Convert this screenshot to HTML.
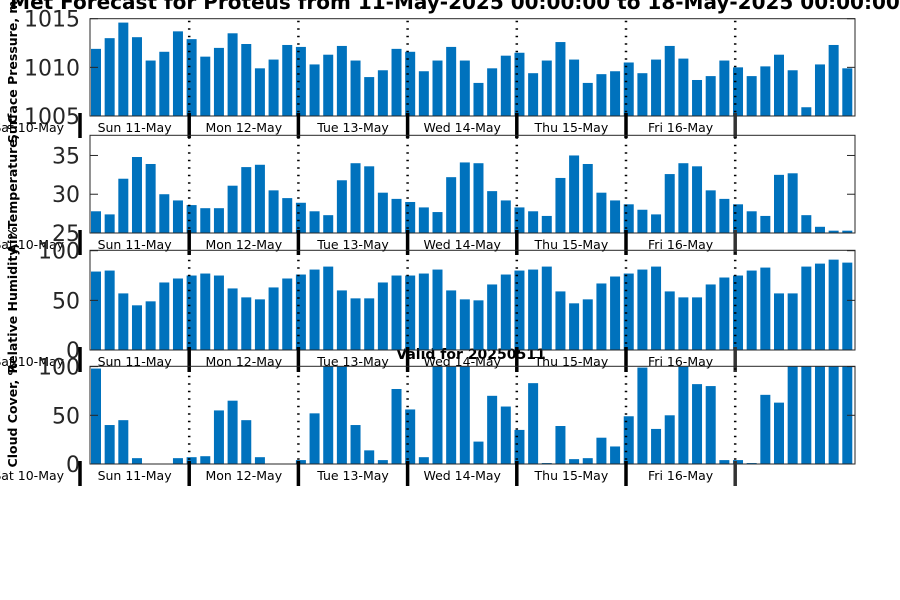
<!DOCTYPE html>
<html><head><meta charset="utf-8"><style>
body{margin:0;background:#fff;}
svg{display:block;font-family:"DejaVu Sans","Liberation Sans",sans-serif;}
</style></head><body>
<svg id="c" width="900" height="600" xmlns="http://www.w3.org/2000/svg">
<text x="455" y="9" text-anchor="middle" font-size="20" font-weight="bold" fill="#000">Met Forecast for Proteus from 11-May-2025 00:00:00 to 18-May-2025 00:00:00</text>
<text x="471" y="359" text-anchor="middle" font-size="14" font-weight="bold" fill="#000">Valid for 20250511</text>
</svg>
<script>
const dayLabels=["Sat 10-May","Sun 11-May","Mon 12-May","Tue 13-May","Wed 14-May","Thu 15-May","Fri 16-May"];
const pressure=[1011.9,1013.0,1014.6,1013.1,1010.7,1011.6,1013.7,1012.9,1011.1,1012.0,1013.5,1012.4,1009.9,1010.8,1012.3,1012.1,1010.3,1011.3,1012.2,1010.7,1009.0,1009.7,1011.9,1011.6,1009.6,1010.7,1012.1,1010.7,1008.4,1009.9,1011.2,1011.5,1009.4,1010.7,1012.6,1010.8,1008.4,1009.3,1009.6,1010.5,1009.4,1010.8,1012.2,1010.9,1008.7,1009.1,1010.7,1010.0,1009.1,1010.1,1011.3,1009.7,1005.9,1010.3,1012.3,1009.9];
const temperature=[27.8,27.4,32.0,34.8,33.9,30.0,29.2,28.6,28.2,28.2,31.1,33.5,33.8,30.5,29.5,28.9,27.8,27.3,31.8,34.0,33.6,30.2,29.4,29.0,28.3,27.7,32.2,34.1,34.0,30.4,29.2,28.3,27.8,27.2,32.1,35.0,33.9,30.2,29.2,28.7,28.0,27.4,32.6,34.0,33.6,30.5,29.4,28.7,27.8,27.2,32.5,32.7,27.3,25.8,25.3,25.3];
const humidity=[79,80,57,45,49,68,72,75,77,75,62,53,51,63,72,76,81,84,60,52,52,68,75,75,77,81,60,51,50,66,76,80,81,84,59,47,51,67,74,77,81,84,59,53,53,66,73,75,80,83,57,57,84,87,91,88];
const cloud=[98,40,45,6,0,0,6,7,8,55,65,45,7,0,0,4,52,100,100,40,14,4,77,56,7,100,100,100,23,70,59,35,83,1,39,5,6,27,18,49,99,36,50,100,82,80,4,4,1,71,63,100,100,100,100,100];
const pressureTicks=[1005,1010,1015];
const tempTicks=[25,30,35];
const pctTicks=[0,50,100];
const NS="http://www.w3.org/2000/svg";
const svg=document.getElementById('c');
const X0=90,X1=855,firstC=96,step=13.66,bw=10,bound0=80,dayW=109.2;
function xOf(i){return firstC+i*step;}
function mk(tag,attrs,parent){const e=document.createElementNS(NS,tag);for(const k in attrs)e.setAttribute(k,attrs[k]);(parent||svg).appendChild(e);return e;}
const panels=[
 {name:"pressure",data:pressure,ticks:pressureTicks,min:1005,max:1015,top:18.7,bot:116,label:"Surface Pressure, mb"},
 {name:"temperature",data:temperature,ticks:tempTicks,min:25,max:37.6,top:135.3,bot:233,label:"Air Temperature, °C"},
 {name:"humidity",data:humidity,ticks:pctTicks,min:0,max:100.4,top:250.3,bot:350,label:"Relative Humidity, %"},
 {name:"cloud",data:cloud,ticks:pctTicks,min:0,max:100.3,top:366.3,bot:464,label:"Cloud Cover, %"}
];
panels.forEach(p=>{
 const g=mk('g',{});
 
 
 const y=v=>p.bot-(v-p.min)/(p.max-p.min)*(p.bot-p.top);
 p.data.forEach((v,i)=>{
  const yy=Math.max(y(v),p.top);
  const r=mk('rect',{x:xOf(i)-bw/2,y:yy,width:bw,height:p.bot-yy,fill:"#0072bd"},g);
  
  
 });
 for(let d=1;d<=6;d++){
  const bx=bound0+d*dayW;
  const l=mk('line',{x1:bx,x2:bx,y1:p.top+2,y2:p.bot,stroke:"#000","stroke-width":2.5,"stroke-dasharray":"1.5,6"},g);
  
  
 }
 const fr=mk('rect',{x:X0,y:p.top,width:X1-X0,height:p.bot-p.top,fill:"none",stroke:"#262626","stroke-width":1},g);
 
 
 p.ticks.forEach(t=>{
  const ty=y(t);
  mk('line',{x1:X0,x2:X0+8,y1:ty,y2:ty,stroke:"#262626"},g);
  mk('line',{x1:X1-8,x2:X1,y1:ty,y2:ty,stroke:"#262626"},g);
  const tx=mk('text',{x:80,y:ty+8,"text-anchor":"end","font-size":22,fill:"#262626"},g);
  tx.textContent=t;
  
  
 });
 for(let d=0;d<=6;d++){
  const bx=bound0+d*dayW;
  const tk=mk('line',{x1:bx,x2:bx,y1:p.bot-3,y2:p.bot+22,stroke:d===6?"#333":"#000","stroke-width":3.5},g);
  
  
 }
 dayLabels.forEach((lab,d)=>{
  const t=mk('text',{x:bound0+(d-0.5)*dayW+ (d===0?dayW*0.03:0),y:p.bot+16,"text-anchor":"middle","font-size":12.5,fill:"#000"},g);
  t.textContent=lab;
  
  
 });
 const cy=(p.top+p.bot)/2;
 const yl=mk('text',{x:0,y:0,"text-anchor":"middle","font-size":12.5,"font-weight":"bold",fill:"#000",transform:`translate(17,${cy}) rotate(-90)`},g);
 yl.textContent=p.label;
 
 
});
</script>
</body></html>
